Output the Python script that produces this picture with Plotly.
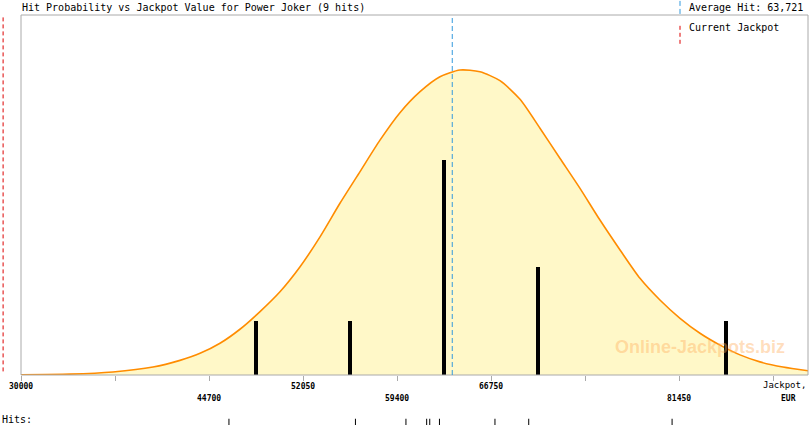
import plotly.graph_objects as go

# probability curve (relative, peak = 100)
jackpot_eur = [30000, 33830, 37190, 40320, 42430, 44000, 45560, 47120, 48690, 50250,
               51820, 53380, 54940, 56510, 58070, 59630, 61200, 62760, 64330, 65890,
               67450, 69020, 70580, 72150, 73710, 75270, 76840, 78400, 79960, 81530,
               83090, 84660, 86220, 87780, 89580, 91540]
hit_prob = [0.1, 0.3, 1.0, 2.6, 4.8, 7.1, 10.4, 15.0, 20.8, 27.3,
            35.5, 45.3, 56.3, 66.7, 77.0, 86.0, 92.9, 97.8, 100.0, 99.4,
            96.5, 90.4, 80.9, 71.0, 61.2, 50.8, 41.0, 31.7, 24.6, 18.6,
            13.7, 9.8, 6.6, 4.3, 2.6, 1.4]

# hit counts per jackpot bin
bin_centers = [48375, 55725, 63075, 70425, 85125]
bin_hits = [1, 1, 4, 2, 1]

# individual hits (rug at the bottom)
hits = [46260, 56150, 60100, 61720, 61960, 62720, 67060, 69700, 80910]

avg_hit = 63721
current_jackpot = 28600

tick_vals = [30000, 37350, 44700, 52050, 59400, 66750, 74100, 81450, 88800]
tick_text = ["30000", "", "44700", "52050", "59400", "66750", "", "81450", ""]
tick_row = [0, 0, 1, 0, 1, 0, 0, 1, 0]

mono = "DejaVu Sans Mono"
eur_per_px = 7350 / 94
x_lo = 30000 - 21 * eur_per_px
x_hi = 30000 + 787 * eur_per_px
left = 21 / 808
frame = "#aaaaaa"

fig = go.Figure()

fig.add_trace(go.Scatter(
    x=jackpot_eur, y=hit_prob, mode="lines",
    line=dict(color="#ff8c00", width=1.6, shape="spline", smoothing=0.7),
    fill="tozeroy", fillcolor="#fff8c8", hoverinfo="skip"))

fig.add_trace(go.Bar(
    x=bin_centers, y=bin_hits, width=240, marker=dict(color="black", line_width=0),
    yaxis="y2"))

fig.add_trace(go.Scatter(
    x=hits, y=[0.5] * len(hits), mode="markers", yaxis="y3",
    marker=dict(symbol="line-ns", size=7, line=dict(width=1, color="black"))))

shapes = [
    # frame
    dict(type="line", xref="paper", yref="y domain", x0=left, x1=left, y0=0, y1=1),
    dict(type="line", xref="paper", yref="y domain", x0=left, x1=1, y0=1, y1=1),
    dict(type="line", xref="paper", yref="y domain", x0=1, x1=1, y0=0, y1=1),
    dict(type="line", xref="paper", yref="y domain", x0=left, x1=1, y0=0, y1=0),
]
for s in shapes:
    s["line"] = dict(color=frame, width=1)

shapes += [
    dict(type="line", xref="x", yref="y domain", x0=avg_hit, x1=avg_hit, y0=0, y1=1,
         line=dict(color="#3399dd", width=1, dash="5px,3px")),
    dict(type="line", xref="x", yref="y domain", x0=current_jackpot, x1=current_jackpot,
         y0=0.01, y1=1, line=dict(color="#dd0000", width=1, dash="4px,3px")),
    # legend keys
    dict(type="line", xref="paper", yref="y domain", x0=680 / 808, x1=680 / 808,
         y0=1.003, y1=1.042, line=dict(color="#3399dd", width=1, dash="5px,3px")),
    dict(type="line", xref="paper", yref="y domain", x0=680 / 808, x1=680 / 808,
         y0=0.92, y1=0.97, line=dict(color="#dd0000", width=1, dash="4px,3px")),
]

annotations = [
    dict(text="Hit Probability vs Jackpot Value for Power Joker (9 hits)", xref="paper",
         yref="y domain", x=20 / 808, y=1, yshift=8, xanchor="left", yanchor="middle",
         showarrow=False, font=dict(family=mono, size=10, color="black")),
    dict(text="Average Hit: " + f"{avg_hit:,}", xref="paper", yref="y domain",
         x=687 / 808, y=1, yshift=8, xanchor="left", yanchor="middle",
         showarrow=False, font=dict(family=mono, size=10, color="black")),
    dict(text="Current Jackpot", xref="paper", yref="y domain",
         x=687 / 808, y=1, yshift=-12, xanchor="left", yanchor="middle",
         showarrow=False, font=dict(family=mono, size=10, color="black")),
    dict(text="Jackpot,", xref="paper", yref="y domain", x=1, y=0, yshift=-10,
         xanchor="right", yanchor="middle", showarrow=False,
         font=dict(family=mono, size=9, color="black")),
    dict(text="<b>EUR</b>", xref="paper", yref="y domain", x=798 / 808, y=0, yshift=-23,
         xanchor="right", yanchor="middle", showarrow=False,
         font=dict(family=mono, size=8, color="black")),
    dict(text="Hits:", xref="paper", yref="paper", x=0, y=0, yshift=6,
         xanchor="left", yanchor="middle", showarrow=False,
         font=dict(family=mono, size=10, color="black")),
    dict(text="<b>Online-Jackpots.biz</b>", xref="paper", yref="y domain", x=700 / 808,
         y=28 / 360, xanchor="center", yanchor="middle", showarrow=False,
         font=dict(family="Liberation Sans", size=18, color="rgba(255,175,95,0.42)")),
]
for v, t, r in zip(tick_vals, tick_text, tick_row):
    if t:
        annotations.append(dict(
            text="<b>" + t + "</b>", xref="x", yref="y domain", x=v, y=0,
            yshift=-11 - 12 * r, xanchor="center", yanchor="middle", showarrow=False,
            font=dict(family=mono, size=8, color="black")))

fig.update_layout(
    width=810, height=425,
    margin=dict(l=0, r=2, t=15, b=0),
    paper_bgcolor="white", plot_bgcolor="white",
    showlegend=False, bargap=0,
    xaxis=dict(range=[x_lo, x_hi], tickvals=tick_vals, showticklabels=False,
               ticks="outside", ticklen=5, tickcolor=frame, showgrid=False,
               zeroline=False, showline=False, fixedrange=True),
    yaxis=dict(domain=[50 / 410, 1], range=[0, 360 / 3.05], visible=False, fixedrange=True),
    yaxis2=dict(overlaying="y", range=[0, 360 / 53.8], visible=False, fixedrange=True),
    yaxis3=dict(domain=[0, 0.015], range=[0, 1], visible=False, fixedrange=True),
    shapes=shapes, annotations=annotations,
)

fig.write_html("out.html", config={"displayModeBar": False},
               post_script="document.body.style.margin = '0';")
